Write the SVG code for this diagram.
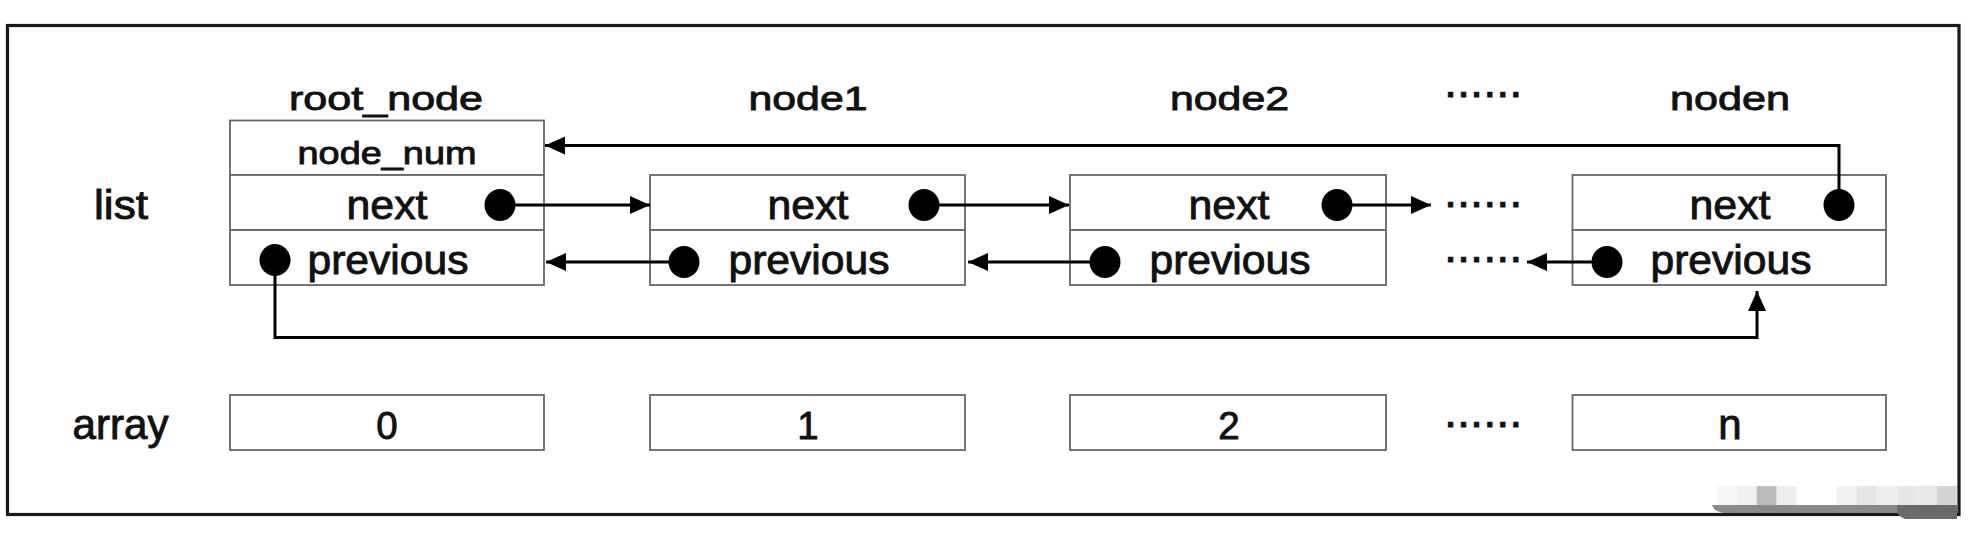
<svg xmlns="http://www.w3.org/2000/svg" width="1984" height="540" viewBox="0 0 1984 540">
<style>
.box{fill:#fff;stroke:#666;stroke-width:1.8}
.t{font-family:"Liberation Sans",Arial,sans-serif;fill:#111;stroke:#111;stroke-width:0.9;text-anchor:middle}
.dots{font-family:"Liberation Sans",Arial,sans-serif;font-size:47px;fill:#111;stroke:#111;stroke-width:0.8}
.con{fill:none;stroke:#000;stroke-width:3}
.arr{marker-end:url(#ah)}
.dot{fill:#000}
</style>
<defs>
<marker id="ah" viewBox="0 0 20 18" refX="20" refY="9" markerWidth="20" markerHeight="18" markerUnits="userSpaceOnUse" orient="auto">
<path d="M0,0 L20,9 L0,18 z" fill="#000"/>
</marker>
</defs>
<rect x="0" y="0" width="1984" height="540" fill="#fff"/>
<rect id="frame" x="7.5" y="25.5" width="1951.5" height="489" fill="none" stroke="#1a1a1a" stroke-width="3.2"/>

<g id="row-labels">
<text class="t" x="121" y="219" font-size="40" textLength="54" lengthAdjust="spacingAndGlyphs">list</text>
<text class="t" x="120.5" y="439" font-size="42" textLength="96" lengthAdjust="spacingAndGlyphs">array</text>
</g>

<g id="root_node">
<text class="t" x="386" y="109.5" font-size="34" textLength="194" lengthAdjust="spacingAndGlyphs">root_node</text>
<rect class="box" x="230" y="120.5" width="314" height="54.5"/>
<rect class="box" x="230" y="175" width="314" height="55"/>
<rect class="box" x="230" y="230" width="314" height="55"/>
<text class="t" x="387" y="164" font-size="32" textLength="179" lengthAdjust="spacingAndGlyphs">node_num</text>
<text class="t" x="387" y="219" font-size="41" textLength="81" lengthAdjust="spacingAndGlyphs">next</text>
<text class="t" x="388" y="273.5" font-size="40.5" textLength="161" lengthAdjust="spacingAndGlyphs">previous</text>
</g>

<g id="node1">
<text class="t" x="808" y="109.5" font-size="34" textLength="119" lengthAdjust="spacingAndGlyphs">node1</text>
<rect class="box" x="650" y="175" width="315" height="55"/>
<rect class="box" x="650" y="230" width="315" height="55"/>
<text class="t" x="808" y="219" font-size="41" textLength="81" lengthAdjust="spacingAndGlyphs">next</text>
<text class="t" x="809" y="273.5" font-size="40.5" textLength="161" lengthAdjust="spacingAndGlyphs">previous</text>
</g>

<g id="node2">
<text class="t" x="1229.5" y="109.5" font-size="34" textLength="119" lengthAdjust="spacingAndGlyphs">node2</text>
<rect class="box" x="1070" y="175" width="316" height="55"/>
<rect class="box" x="1070" y="230" width="316" height="55"/>
<text class="t" x="1229" y="219" font-size="41" textLength="81" lengthAdjust="spacingAndGlyphs">next</text>
<text class="t" x="1230" y="273.5" font-size="40.5" textLength="161" lengthAdjust="spacingAndGlyphs">previous</text>
</g>

<g id="ellipsis">
<text class="dots" x="1444" y="97">......</text>
<text class="dots" x="1444" y="206.5">......</text>
<text class="dots" x="1444" y="262">......</text>
<text class="dots" x="1444" y="426.5">......</text>
</g>

<g id="noden">
<text class="t" x="1730" y="109.5" font-size="34" textLength="120" lengthAdjust="spacingAndGlyphs">noden</text>
<rect class="box" x="1572.5" y="175" width="313.5" height="55"/>
<rect class="box" x="1572.5" y="230" width="313.5" height="55"/>
<text class="t" x="1730" y="219" font-size="41" textLength="81" lengthAdjust="spacingAndGlyphs">next</text>
<text class="t" x="1731" y="273.5" font-size="40.5" textLength="161" lengthAdjust="spacingAndGlyphs">previous</text>
</g>

<g id="array">
<g id="a0"><rect class="box" x="230" y="395" width="314" height="55"/><text class="t" x="387" y="439" font-size="38.5">0</text></g>
<g id="a1"><rect class="box" x="650" y="395" width="315" height="55"/><text class="t" x="808" y="439" font-size="38.5">1</text></g>
<g id="a2"><rect class="box" x="1070" y="395" width="316" height="55"/><text class="t" x="1229" y="439" font-size="38.5">2</text></g>
<g id="an"><rect class="box" x="1572.5" y="395" width="313.5" height="55"/><text class="t" x="1730" y="439" font-size="42">n</text></g>
</g>

<g id="connectors">
<path class="con arr" d="M500,205 H650"/>
<path class="con arr" d="M924,205 H1069"/>
<path class="con arr" d="M1337,205 H1431"/>
<path class="con arr" d="M684,262 H546"/>
<path class="con arr" d="M1105,262 H968"/>
<path class="con arr" d="M1607,262 H1527"/>
<path class="con arr" d="M1839,205 V145.5 H545"/>
<path class="con arr" d="M275,260 V337.5 H1757 V291"/>
<ellipse class="dot" cx="500" cy="205" rx="15.5" ry="16"/>
<ellipse class="dot" cx="924" cy="205" rx="15.5" ry="16"/>
<ellipse class="dot" cx="1337" cy="205" rx="15.5" ry="16"/>
<ellipse class="dot" cx="1839" cy="205" rx="15.5" ry="16"/>
<ellipse class="dot" cx="275" cy="260" rx="15.5" ry="16"/>
<ellipse class="dot" cx="684" cy="262" rx="15.5" ry="16"/>
<ellipse class="dot" cx="1105" cy="262" rx="15.5" ry="16"/>
<ellipse class="dot" cx="1607" cy="262" rx="15.5" ry="16"/>
</g>

<g id="watermark">
<rect x="1716.7" y="486" width="20" height="19" fill="#f6f6f6"/>
<rect x="1736.7" y="486" width="20" height="19" fill="#f0f0f0"/>
<rect x="1756.7" y="486" width="20" height="19" fill="#bcbcbc"/>
<rect x="1776.7" y="486" width="20" height="19" fill="#eeeeee"/>
<rect x="1836.7" y="486" width="20" height="19" fill="#f2f2f2"/>
<rect x="1856.7" y="486" width="20" height="19" fill="#e5e5e5"/>
<rect x="1876.7" y="486" width="20" height="19" fill="#eeeeee"/>
<rect x="1896.7" y="486" width="20" height="19" fill="#e6e6e6"/>
<rect x="1916.7" y="486" width="20" height="19" fill="#e9e9e9"/>
<rect x="1936.7" y="486" width="20" height="19" fill="#d4d4d4"/>
<path d="M1712,505 H1957 V513 H1725 Q1714,512 1712,505 z" fill="#8a8a8a"/>
<path d="M1897,505 H1957 V519 H1905 Q1897,516 1897,510 z" fill="#6a6a6a"/>
</g>
</svg>
